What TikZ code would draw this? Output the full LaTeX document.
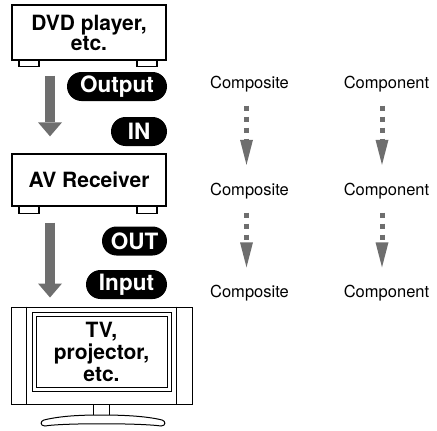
\documentclass[tikz,border=0pt]{standalone}
\usepackage{fontspec}
\setmainfont{TeX Gyre Heros}
\usetikzlibrary{arrows.meta}
\definecolor{arrowgray}{RGB}{110,110,110}
\begin{document}
\begin{tikzpicture}[x=1pt,y=-1pt,
  devbox/.style={draw=black,line width=1.3pt,fill=white,minimum width=154pt,inner sep=0pt,align=center,font=\bfseries\fontsize{21}{20}\selectfont},
  pill/.style={fill=black,text=white,rounded corners=14.5pt,minimum height=29pt,inner sep=0pt,font=\bfseries\fontsize{22.5}{22}\selectfont},
  foot/.style={draw=black,line width=1.3pt,fill=white},
  bigarrow/.style={draw=arrowgray,line width=10.5pt,-{Triangle[width=24pt,length=14pt,line width=0pt]}},
  dotarrow/.style={draw=arrowgray,line width=5pt,dash pattern=on 5pt off 6pt,-{Triangle[width=13pt,length=25pt,line width=0pt]},shorten <=14pt,shorten >=18pt},
  lbl/.style={font=\fontsize{16.5}{18}\selectfont,inner sep=0pt,text height=12pt,text depth=3.5pt},
  tvline/.style={draw=black,line width=1pt}
]
\useasboundingbox (0,0) rectangle (437,431);

% DVD player
\node[devbox,minimum height=55pt] (dvd) at (89,32.5) {DVD player,\\etc.};
\draw[foot] ([xshift=-70pt]dvd.south) rectangle ([xshift=-50pt,yshift=-5.5pt]dvd.south);
\draw[foot] ([xshift=48pt]dvd.south) rectangle ([xshift=68pt,yshift=-5.5pt]dvd.south);

\node[pill,minimum width=100pt] (output) at (117,86.5) {Output};
\node[pill,minimum width=56pt] (in) at (139,131.5) {IN};

% AV receiver
\node[devbox,minimum height=52pt] (avr) at (89,180) {AV Receiver};
\draw[foot] ([xshift=-70pt]avr.south) rectangle ([xshift=-50pt,yshift=-7pt]avr.south);
\draw[foot] ([xshift=48pt]avr.south) rectangle ([xshift=68pt,yshift=-7pt]avr.south);

\node[pill,minimum width=65pt] (out) at (134.5,241) {OUT};
\node[pill,minimum width=81pt] (input) at (126.5,284.5) {Input};

% TV
\node[draw,line width=1pt,minimum width=181pt,minimum height=97pt,inner sep=0pt] (tv) at (101.5,355.5) {};
\draw[tvline] ([xshift=16pt]tv.north west) -- ([xshift=16pt]tv.south west);
\draw[tvline] ([xshift=-16pt]tv.north east) -- ([xshift=-16pt]tv.south east);
\node[draw,line width=1pt,minimum width=139pt,minimum height=79pt,inner sep=0pt] (screen) at (101.5,351.5) {};
\node[draw,line width=1pt,minimum width=131pt,minimum height=71pt,inner sep=0pt,align=center,font=\bfseries\fontsize{21}{22}\selectfont] (scr) at (101.5,351.5) {TV,\\projector,\\etc.};
\draw[tvline,fill=white] ([xshift=-8.5pt]tv.south) rectangle ([xshift=7.5pt,yshift=-11pt]tv.south);
\draw[tvline,fill=white] (44,420) .. controls (60,416) and (80,415) .. (101,415)
  .. controls (122,415) and (146,416) .. (162,420)
  .. controls (166,421) and (166,426) .. (161,426)
  .. controls (140,423) and (62,423) .. (45,426)
  .. controls (40,426) and (40,421) .. (44,420) -- cycle;

% big arrows
\draw[bigarrow,shorten <=15pt,shorten >=17pt] ([xshift=-39pt]dvd.south) -- ([xshift=-39pt]avr.north);
\draw[bigarrow,shorten <=16pt,shorten >=9pt] ([xshift=-39pt]avr.south) -- ([xshift=-39pt]tv.north -| avr.south);

% labels
\node[lbl] (cs1) at (249.5,83.75) {Composite};
\node[lbl] (cp1) at (386.5,83.75) {Component};
\node[lbl] (cs2) at (249.5,190.75) {Composite};
\node[lbl] (cp2) at (386.5,190.75) {Component};
\node[lbl] (cs3) at (249.5,293.25) {Composite};
\node[lbl] (cp3) at (386.5,293.25) {Component};

\draw[dotarrow] ([xshift=-3pt]cs1.south) -- ([xshift=-3pt]cs2.north);
\draw[dotarrow] ([xshift=-3pt]cs2.south) -- ([xshift=-3pt]cs3.north);
\draw[dotarrow] ([xshift=-4.5pt]cp1.south) -- ([xshift=-4.5pt]cp2.north);
\draw[dotarrow] ([xshift=-4.5pt]cp2.south) -- ([xshift=-4.5pt]cp3.north);
\end{tikzpicture}
\end{document}
